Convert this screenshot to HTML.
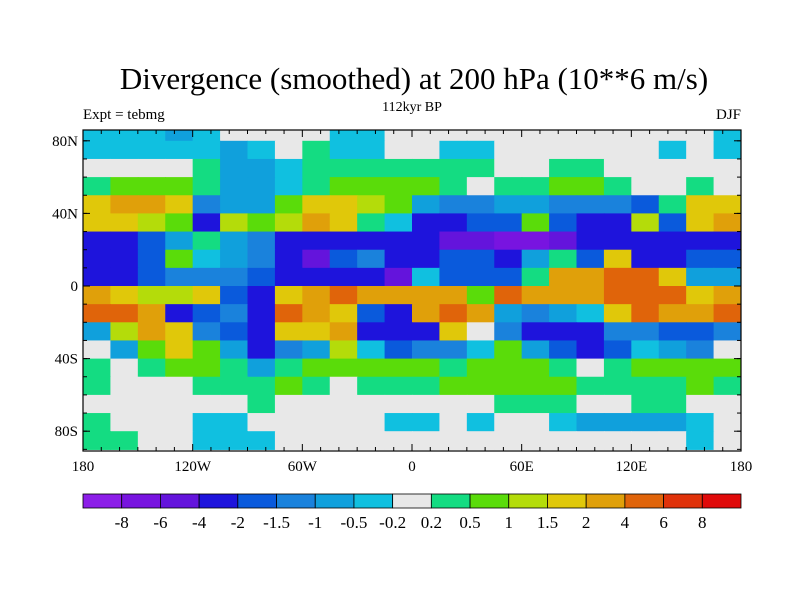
<!DOCTYPE html>
<html><head><meta charset="utf-8"><style>
body{margin:0;background:#fff}
svg{display:block;font-family:"Liberation Serif",serif}
</style></head><body>
<svg id="chart" width="800" height="600" viewBox="0 0 800 600">
<rect width="800" height="600" fill="#fff"/>
<text x="414" y="89" text-anchor="middle" font-size="31">Divergence (smoothed) at 200 hPa (10**6 m/s)</text>
<text x="83" y="119" font-size="15">Expt = tebmg</text>
<text x="412" y="111" text-anchor="middle" font-size="14">112kyr BP</text>
<text x="741" y="119" text-anchor="end" font-size="15">DJF</text>
<defs><clipPath id="plotClip"><rect x="83" y="130" width="658" height="321"/></clipPath></defs>
<g id="cells" clip-path="url(#plotClip)"></g>
<rect x="83" y="130" width="658" height="321" fill="none" stroke="#000" stroke-width="1.2"/>
<g id="axes"></g>
<g id="colorbar"></g>
</svg>
<script>
const lonCenters=[-172.5,-157.5,-142.5,-127.5,-112.5,-97.5,-82.5,-67.5,-52.5,-37.5,-22.5,-7.5,7.5,22.5,37.5,52.5,67.5,82.5,97.5,112.5,127.5,142.5,157.5,172.5];
const latCenters=[85,75,65,55,45,35,25,15,5,-5,-15,-25,-35,-45,-55,-65,-75,-85];
const divergence=[
[-0.3,-0.3,-0.3,-0.7,-0.3,0,0,0,0,-0.3,-0.3,0,0,0,0,0,0,0,0,0,0,0,0,-0.3],
[-0.3,-0.3,-0.3,-0.3,-0.3,-0.7,-0.3,0,0.3,-0.3,-0.3,0,0,-0.3,-0.3,0,0,0,0,0,0,-0.3,0,-0.3],
[0,0,0,0,0.3,-0.7,-0.7,-0.3,0.3,0.3,0.3,0.3,0.3,0.3,0.3,0,0,0.3,0.3,0,0,0,0,0],
[0.3,0.7,0.7,0.7,0.3,-0.7,-0.7,-0.3,0.3,0.7,0.7,0.7,0.7,0.3,0,0.3,0.3,0.7,0.7,0.3,0,0,0.3,0],
[1.7,3,3,1.7,-1.2,-0.7,-0.7,0.7,1.7,1.7,1.2,0.7,-0.7,-1.2,-1.2,-0.7,-0.7,-1.2,-1.2,-1.2,-1.7,0.3,1.7,1.7],
[1.7,1.7,1.2,0.7,-3,1.2,0.7,1.2,3,1.7,0.3,-0.3,-3,-3,-1.7,-1.7,0.7,-1.7,-3,-3,1.2,-1.7,1.7,3],
[-3,-3,-1.7,-0.7,0.3,-0.7,-1.2,-3,-3,-3,-3,-3,-3,-5,-5,-7,-7,-5,-3,-3,-3,-3,-3,-3],
[-3,-3,-1.7,0.7,-0.3,-0.7,-1.2,-3,-5,-1.7,-1.2,-3,-3,-1.7,-1.7,-3,-0.7,0.3,-1.7,1.7,-3,-3,-1.7,-1.7],
[-3,-3,-1.7,-1.2,-1.2,-1.2,-1.7,-3,-3,-3,-3,-5,-0.3,-1.7,-1.7,-1.7,0.3,3,3,5,5,1.7,-0.7,-0.7],
[3,1.7,1.2,1.2,1.7,-1.7,-3,1.7,3,5,3,3,3,3,0.7,5,3,3,3,5,5,5,1.7,3],
[5,5,3,-3,-1.7,-1.2,-3,5,3,1.7,-1.7,-3,3,5,3,-0.7,-1.2,-0.7,-0.3,1.7,5,3,3,5],
[-0.7,1.2,3,1.7,-1.2,-1.7,-3,1.7,1.7,3,-3,-3,-3,1.7,0,-1.2,-3,-3,-3,-1.2,-1.2,-1.7,-1.7,-1.2],
[0,-0.7,0.7,1.7,0.7,-0.7,-3,-1.2,-0.7,1.2,-0.3,-1.7,-1.2,-1.2,-0.3,0.7,-0.7,-1.7,-3,-1.7,-0.3,-0.7,-1.2,0],
[0.3,0,0.3,0.7,0.7,0.3,-0.7,0.3,0.7,0.7,0.7,0.7,0.7,0.3,0.7,0.7,0.7,0.3,0,0.3,0.7,0.7,0.7,0.7],
[0.3,0,0,0,0.3,0.3,0.3,0.7,0.3,0,0.3,0.3,0.3,0.7,0.7,0.7,0.7,0.7,0.3,0.3,0.3,0.3,0.7,0.3],
[0,0,0,0,0,0,0.3,0,0,0,0,0,0,0,0,0.3,0.3,0.3,0,0,0.3,0.3,0,0],
[0.3,0,0,0,-0.3,-0.3,0,0,0,0,0,-0.3,-0.3,0,-0.3,0,0,-0.3,-0.7,-0.7,-0.7,-0.7,-0.3,0],
[0.3,0.3,0,0,-0.3,-0.3,-0.3,0,0,0,0,0,0,0,0,0,0,0,0,0,0,0,-0.3,0]
];
const levels=[-8,-6,-4,-2,-1.5,-1,-0.5,-0.2,0.2,0.5,1,1.5,2,4,6,8];
const levelLabels=["-8","-6","-4","-2","-1.5","-1","-0.5","-0.2","0.2","0.5","1","1.5","2","4","6","8"];
const colors=["#8c1ee8","#7814e0","#6414dc","#1e14dc","#0a5adc","#1a82dc","#10a0dc","#10c0e0","#e8e8e8","#14dc82","#5adc0a","#b4dc0a","#e0c80a","#e0a00a","#e0640a","#e0320a","#e00a0a"];
const lonTicks=[-180,-120,-60,0,60,120,180];
const lonTickLabels=["180","120W","60W","0","60E","120E","180"];
const latTicks=[80,40,0,-40,-80];
const latTickLabels=["80N","40N","0","40S","80S"];

const NS="http://www.w3.org/2000/svg";
const xScale=lon=>83+(lon+180)*(658/360);
const yScale=lat=>286-lat*1.815;
function colorFor(v){let i=0;while(i<levels.length&&v>=levels[i])i++;return colors[i];}
const cells=document.getElementById('cells');
divergence.forEach((row,r)=>row.forEach((v,c)=>{
  const x0=xScale(lonCenters[c]-7.5),x1=xScale(lonCenters[c]+7.5);
  const y0=yScale(latCenters[r]+5),y1=yScale(latCenters[r]-5);
  const rc=document.createElementNS(NS,'rect');
  rc.setAttribute('x',x0);rc.setAttribute('y',y0);
  rc.setAttribute('width',x1-x0+0.6);rc.setAttribute('height',y1-y0+0.6);
  rc.setAttribute('fill',colorFor(v));
  
  
  cells.appendChild(rc);
}));
const axes=document.getElementById('axes');
function line(x1,y1,x2,y2){const l=document.createElementNS(NS,'line');l.setAttribute('x1',x1);l.setAttribute('y1',y1);l.setAttribute('x2',x2);l.setAttribute('y2',y2);l.setAttribute('stroke','#000');l.setAttribute('stroke-width','1');


axes.appendChild(l);}
function txt(x,y,s,anchor,name){const t=document.createElementNS(NS,'text');t.setAttribute('x',x);t.setAttribute('y',y);t.setAttribute('font-size','15');t.setAttribute('text-anchor',anchor);t.textContent=s;


axes.appendChild(t);}
for(let lon=-180;lon<=180;lon+=10){const x=xScale(lon);const major=lon%60===0;const L=major?7:4;line(x,451,x,451-L);line(x,130,x,130+L);}
for(let lat=-90;lat<=85;lat+=10){const y=yScale(lat);if(y<130)continue;line(83,y,87,y);line(741,y,737,y);}
latTicks.forEach(lat=>{const y=yScale(lat);line(83,y,90,y);line(741,y,734,y);});
lonTicks.forEach((lon,i)=>txt(xScale(lon),471,lonTickLabels[i],'middle','x-tick-label'));
latTicks.forEach((lat,i)=>txt(78,yScale(lat)+5,latTickLabels[i],'end','y-tick-label'));
const cb=document.getElementById('colorbar');
const bw=658/colors.length;
colors.forEach((col,i)=>{const r=document.createElementNS(NS,'rect');r.setAttribute('x',83+i*bw);r.setAttribute('y',494);r.setAttribute('width',bw);r.setAttribute('height',14);r.setAttribute('fill',col);r.setAttribute('stroke','#000');r.setAttribute('stroke-width','0.8');


cb.appendChild(r);});
levelLabels.forEach((s,i)=>{const t=document.createElementNS(NS,'text');t.setAttribute('x',83+(i+1)*bw);t.setAttribute('y',528);t.setAttribute('font-size','17');t.setAttribute('text-anchor','middle');t.textContent=s;


cb.appendChild(t);});
</script>
</body></html>
